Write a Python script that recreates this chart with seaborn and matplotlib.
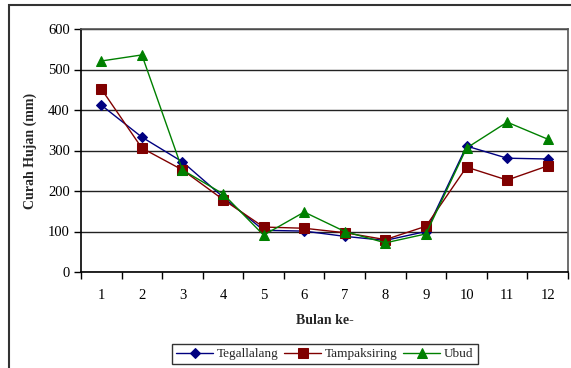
import matplotlib
matplotlib.use("Agg")
import matplotlib.pyplot as plt
import matplotlib.patches as mpatches
import numpy as np
import pandas as pd
import seaborn as sns

bulan = list(range(1, 13))
tegallalang = [412, 333, 272, 185, 103, 101, 88, 78, 100, 311, 281, 279]
tampaksiring = [452, 306, 252, 179, 111, 108, 97, 80, 113, 259, 227, 262]
ubud = [521, 536, 252, 193, 91, 148, 100, 72, 94, 306, 370, 328]
y_ticks = [0, 100, 200, 300, 400, 500, 600]

stasiun = ["Tegallalang", "Tampaksiring", "Ubud"]
warna = ["#000080", "#800000", "#008000"]
penanda = ["D", "s", "^"]
ukuran = [5.5, 6.5, 7.5]

df = pd.DataFrame({
    "Bulan": bulan * 3,
    "Curah": tegallalang + tampaksiring + ubud,
    "Stasiun": [s for s in stasiun for _ in bulan],
})

sns.set_theme(style="white")
plt.rcParams["font.family"] = ["Liberation Serif", "DejaVu Serif"]

fig = plt.figure(figsize=(5.71, 3.68), dpi=100)
ax = fig.add_axes([81 / 571, 1 - 272 / 368, 487 / 571, 243 / 368])

for nama, c, m, ms in zip(stasiun, warna, penanda, ukuran):
    sub = df[df["Stasiun"] == nama]
    sns.lineplot(data=sub, x="Bulan", y="Curah", ax=ax, color=c, marker=m,
                 markersize=ms, markeredgecolor=c, linewidth=1.0, label=nama,
                 legend=False)

ax.set_xlim(0.5, 12.5)
ax.set_ylim(0, 600)
ax.set_yticks(y_ticks)
ax.set_xticks(bulan)
ax.set_xticks(np.arange(0.5, 13, 1), minor=True)
ax.tick_params(axis="x", which="major", length=0, pad=12, labelsize=10.5,
               colors="black")
ax.tick_params(axis="x", which="minor", length=5, width=1, direction="out",
               color="black", bottom=True)
ax.tick_params(axis="y", length=5, width=1, direction="out", left=True,
               labelsize=10.5, pad=3, colors="black")
ax.yaxis.grid(True, color="#222222", linewidth=1.0)
ax.set_axisbelow(True)
for s in ["left", "bottom"]:
    ax.spines[s].set_color("black")
    ax.spines[s].set_linewidth(1.2)
for s in ["top", "right"]:
    ax.spines[s].set_color("#555555")
    ax.spines[s].set_linewidth(1.2)

ax.set_xlabel("Bulan ke-", fontsize=10, fontweight="bold", labelpad=9)
ax.set_ylabel("Curah Hujan (mm)", fontsize=10, fontweight="bold", labelpad=8)

handles, labels = ax.get_legend_handles_labels()
leg = fig.legend(handles, labels, loc="center", ncol=3,
                 bbox_to_anchor=(325 / 571, 1 - 354 / 368), frameon=True,
                 fancybox=False, edgecolor="black", fontsize=9.5,
                 handlelength=2.8, columnspacing=0.4, handletextpad=0.3,
                 borderpad=0.3)
leg.get_frame().set_linewidth(1.0)

# outer chart frame
fig.patches.append(mpatches.Rectangle((9 / 571, -0.1), 1.2, 1.1 - 5 / 368,
                                      transform=fig.transFigure, fill=False,
                                      edgecolor="#333333", linewidth=1.5))

fig.savefig("out.png", dpi=100)
